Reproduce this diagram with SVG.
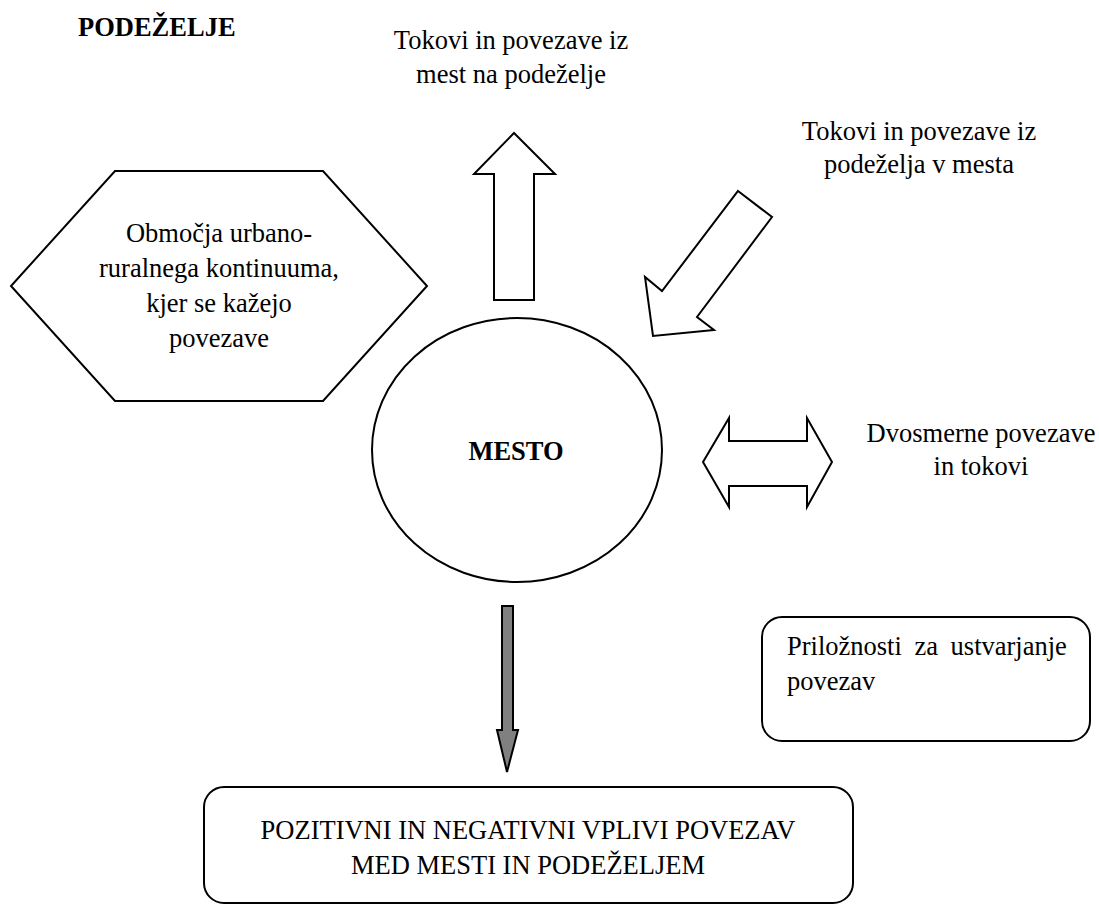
<svg xmlns="http://www.w3.org/2000/svg" width="1099" height="905" viewBox="0 0 1099 905">
  <style>
    .shape { fill: #ffffff; stroke: #000000; stroke-width: 2; stroke-linejoin: miter; }
    .dark { fill: #808080; stroke: #000000; stroke-width: 2; }
    .lbl { font-family: "Liberation Serif", "Times New Roman", serif; font-size: 26.5px; fill: #000000; }
    .mid { text-anchor: middle; }
    .bold { font-weight: bold; }
  </style>
  <rect width="1099" height="905" fill="#ffffff"/>

  <!-- region heading -->
  <g id="heading">
    <text class="lbl bold" x="78" y="36">PODEŽELJE</text>
  </g>

  <!-- hexagon: transition zone -->
  <g id="continuum">
    <polygon class="shape" points="115,171 323,171 427,286 323,401 115,401 11,286"/>
    <text class="lbl mid" x="219" y="242">Območja urbano-</text>
    <text class="lbl mid" x="219" y="277">ruralnega kontinuuma,</text>
    <text class="lbl mid" x="219" y="312">kjer se kažejo</text>
    <text class="lbl mid" x="219" y="347">povezave</text>
  </g>

  <!-- central city -->
  <g id="city">
    <ellipse class="shape" cx="517" cy="450" rx="145" ry="132"/>
    <text class="lbl bold mid" x="516" y="460">MESTO</text>
  </g>

  <!-- flow labels -->
  <g id="label-out">
    <text class="lbl mid" x="511" y="49">Tokovi in povezave iz</text>
    <text class="lbl mid" x="511" y="83">mest na podeželje</text>
  </g>
  <g id="label-in">
    <text class="lbl mid" x="919" y="140">Tokovi in povezave iz</text>
    <text class="lbl mid" x="919" y="173">podeželja v mesta</text>
  </g>
  <g id="label-both">
    <text class="lbl mid" x="981" y="442">Dvosmerne povezave</text>
    <text class="lbl mid" x="981" y="475">in tokovi</text>
  </g>

  <!-- opportunities box -->
  <g id="opportunities">
    <rect class="shape" x="762" y="617" width="328" height="124" rx="20" ry="20"/>
    <text class="lbl" x="787" y="655" word-spacing="6">Priložnosti za ustvarjanje</text>
    <text class="lbl" x="787" y="690">povezav</text>
  </g>

  <!-- impacts box -->
  <g id="impacts">
    <rect class="shape" x="204" y="787" width="649" height="116" rx="20" ry="20"/>
    <text class="lbl mid" x="528" y="839">POZITIVNI IN NEGATIVNI VPLIVI POVEZAV</text>
    <text class="lbl mid" x="528" y="874">MED MESTI IN PODEŽELJEM</text>
  </g>

  <!-- block arrows -->
  <g id="connectors">
    <!-- city to countryside -->
    <polygon class="shape" points="514,133 555,174 534,174 534,300 494,300 494,174 474,174"/>
    <!-- countryside to city -->
    <polygon class="shape" points="738,191 772,217 697,317 714,330 653,336 645,277 662,291"/>
    <!-- two-way -->
    <polygon class="shape" points="703,462 729,418 729,441 807,441 807,418 832,462 807,507 807,486 729,486 729,507"/>
    <!-- city to impacts -->
    <polygon class="dark" points="502,606 513,606 513,730 518,730 507,772 497,730 502,730"/>
  </g>
</svg>
